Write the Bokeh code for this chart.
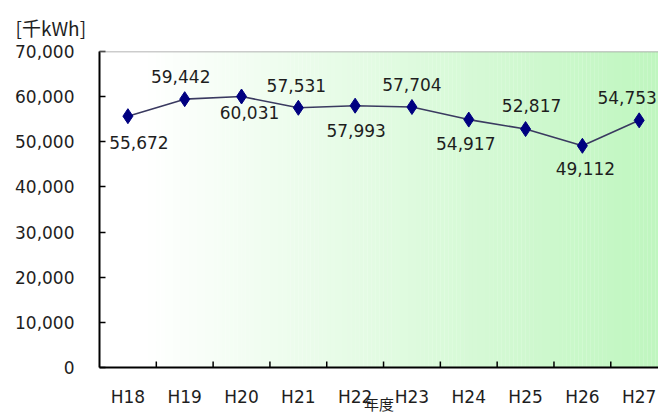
from bokeh.plotting import figure
from bokeh.models import FixedTicker, NumeralTickFormatter, Title, Span, ColumnDataSource
from bokeh.core.properties import value
from bokeh.embed import file_html
from bokeh.resources import INLINE

categories = ["H18", "H19", "H20", "H21", "H22", "H23", "H24", "H25", "H26", "H27"]
energy = [55672, 59442, 60031, 57531, 57993, 57704, 54917, 52817, 49112, 54753]
y_ticks = [0, 10000, 20000, 30000, 40000, 50000, 60000, 70000]
unit_label = "[千kWh]"
x_title = "年度"

FONT = "DejaVu Sans"
CJK = "Noto Sans CJK JP"
TXT = "#1e1e1e"

n = len(categories)
xs = list(range(n))

W, H = 658, 416
BL, BT, BB = 99, 50, 49
XR = (-0.5, 9.34)
YR = (0, 70000)
frame_h = H - BT - BB
uy = (YR[1] - YR[0]) / frame_h     # data units per px (y)

p = figure(width=W, height=H, output_backend="svg", toolbar_location=None,
           x_range=XR, y_range=YR,
           min_border_left=BL, min_border_top=BT, min_border_bottom=BB, min_border_right=0,
           background_fill_color="white", border_fill_color="white")
p.outline_line_color = None
p.grid.visible = False

# gradient background (white -> light green)
steps = 140
x0, x1 = -0.5, 9.5
w = (x1 - x0) / steps
lefts, rights, cols = [], [], []
for i in range(steps):
    t = (i + 0.5) / steps
    t = max(0.0, (t - 0.08) / 0.92)
    r = int(round(255 - (255 - 190) * t))
    g = int(round(255 - (255 - 246) * t))
    b = int(round(255 - (255 - 190) * t))
    lefts.append(x0 + i * w)
    rights.append(x0 + (i + 1) * w + w * 0.05)
    cols.append("#%02x%02x%02x" % (r, g, b))
p.quad(left=lefts, right=rights, bottom=0, top=70000, fill_color=cols, line_color=None, level="underlay")

p.add_layout(Span(location=70000, dimension="width", line_color="#9a9a9a", line_width=1.5))

# category boundary tick marks
bx = [i + 0.5 for i in range(n - 1)]
p.segment(x0=bx, y0=[0] * len(bx), x1=bx, y1=[6 * uy] * len(bx),
          line_color="black", line_width=1.5)

src = ColumnDataSource(dict(x=xs, y=energy))
p.line("x", "y", source=src, line_color="#3a3a60", line_width=1.6)
p.scatter("x", "y", source=src, marker="diamond", size=15, fill_color="#000080", line_color="#000080")

# labels alternate below / above
x_off = [11, -4, 8, -2, 1, 0, -3, 6, 3, -12]
y_off = [26, -23, 16, -22, 25, -23, 24, -24, 23, -23]
src_lab = ColumnDataSource(dict(x=xs, y=energy, lab=[f"{v:,}" for v in energy],
                                xo=x_off, yo=y_off))
p.text("x", "y", text="lab", source=src_lab, x_offset="xo", y_offset="yo",
       text_align="center", text_baseline="middle", text_font=value(FONT),
       text_font_size="17px", text_color=TXT)

# axes
p.yaxis.ticker = FixedTicker(ticks=y_ticks)
p.yaxis.formatter = NumeralTickFormatter(format="0,0")
p.yaxis.major_tick_in = 6
p.yaxis.major_tick_out = 0
p.yaxis.minor_tick_line_color = None
p.yaxis.major_label_standoff = 25
p.yaxis.axis_line_width = 2
p.yaxis.axis_line_color = "black"
p.yaxis.major_tick_line_width = 1.5
p.yaxis.major_label_text_font = FONT
p.yaxis.major_label_text_font_size = "17px"
p.yaxis.major_label_text_color = TXT

p.xaxis.ticker = FixedTicker(ticks=xs)
p.xaxis.major_label_overrides = {i: c for i, c in enumerate(categories)}
p.xaxis.major_tick_line_color = None
p.xaxis.major_tick_in = 0
p.xaxis.major_tick_out = 0
p.xaxis.minor_tick_line_color = None
p.xaxis.major_label_standoff = 19
p.xaxis.axis_line_width = 2
p.xaxis.axis_line_color = "black"
p.xaxis.major_label_text_font = FONT
p.xaxis.major_label_text_font_size = "17px"
p.xaxis.major_label_text_color = TXT
p.xaxis.axis_label = x_title
p.xaxis.axis_label_standoff = -17
p.xaxis.axis_label_text_font = CJK
p.xaxis.axis_label_text_font_size = "15px"
p.xaxis.axis_label_text_font_style = "normal"
p.xaxis.axis_label_text_color = TXT

# unit label at top-left
p.add_layout(Title(text=unit_label, align="left", offset=15 - BL, standoff=22,
                   text_font=CJK, text_font_size="19px", text_font_style="normal",
                   text_color=TXT), "above")

open("out.html", "w").write(file_html(p, INLINE))
